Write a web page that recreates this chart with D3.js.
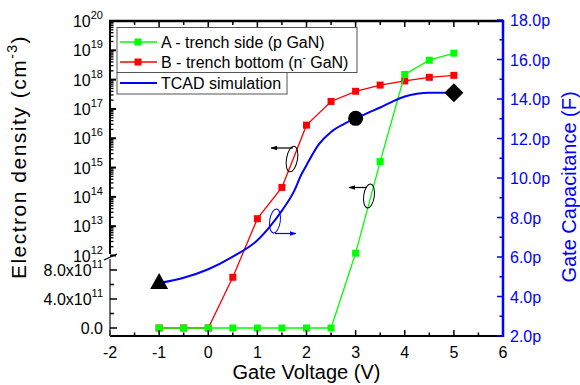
<!DOCTYPE html>
<html><head><meta charset="utf-8">
<script src="https://cdn.jsdelivr.net/npm/d3@7"></script>
<style>body{margin:0;background:#fff} text{font-family:"Liberation Sans",Arial,sans-serif}</style>
</head><body><svg id="c" width="580" height="385"></svg>
<script>
// ---- data ----
const gateV = [-1,-0.5,0,0.5,1,1.5,2,2.5,3,3.5,4,4.5,5];
const densA = [0,0,0,0,0,0,0,0,1.2e12,1.6e15,1.5e18,4.6e18,8e18];
const densB = [0,0,0,7e11,1.8e13,2.1e14,2.8e16,1.8e17,4e17,6.5e17,9e17,1.2e18,1.4e18];
const tcadV = [-1,-0.5,0,0.5,1,1.25,1.5,1.75,1.9,2,2.25,2.5,2.75,3,3.25,3.5,3.75,4,4.25,4.5,5];
const tcadC = [4.68,4.95,5.38,6.02,6.85,7.53,8.35,9.35,10.2,10.65,11.7,12.33,12.72,13.02,13.3,13.57,13.87,14.13,14.27,14.32,14.32];
const markerV = [-1,3,5];
const markerC = [4.68,13.02,14.32];
const markerShape = ["triangle","circle","diamond"];
const xTicks = [-2,-1,0,1,2,3,4,5,6];
const logExps = [12,13,14,15,16,17,18,19,20];
const linTicks = [0,4e11,8e11];
const linTickLabels = ["0.0","4.0x10","8.0x10"];
const capTicks = [2,4,6,8,10,12,14,16,18];
const legendLabels = ["A - trench side (p GaN)","B - trench bottom (n","TCAD simulation"];

// ---- layout ----
const svg = d3.select("#c");
const L = 110, R = 503, T = 21, B = 336;
const x = d3.scaleLinear().domain([-2,6]).range([L,R]);
const yC = d3.scaleLinear().domain([2,18]).range([B,T-1]);
const yLin = d3.scaleLinear().domain([0,1e12]).range([328,255.5]);
const yLog = d3.scaleLog().domain([1e12,1e20]).range([255.5,T]);
const yL = v => v < 1e12 ? yLin(v) : yLog(v);
const green = "#00ff00", red = "#ff0000", blue = "#0000ff";

const g = svg.append("g");

// ---- series ----
const lineL = d3.line().x((d,i)=>x(d[0])).y(d=>yL(d[1]));
const dataA = gateV.map((v,i)=>[v,densA[i]]);
const dataB = gateV.map((v,i)=>[v,densB[i]]);
const dataT = tcadV.map((v,i)=>[v,tcadC[i]]);

g.append("path").datum(dataB).attr("d",lineL).attr("fill","none").attr("stroke",red).attr("stroke-width",1.3);
g.selectAll(".mb").data(dataB).enter().append("rect")
  .attr("x",d=>x(d[0])-3.5).attr("y",d=>yL(d[1])-3.5).attr("width",7).attr("height",7).attr("fill",red);
g.append("path").datum(dataA).attr("d",lineL).attr("fill","none").attr("stroke",green).attr("stroke-width",1.3);
g.selectAll(".ma").data(dataA).enter().append("rect")
  .attr("x",d=>x(d[0])-3.5).attr("y",d=>yL(d[1])-3.5).attr("width",7).attr("height",7).attr("fill",green);

g.append("path").datum(dataT)
  .attr("d",d3.line().curve(d3.curveMonotoneX).x(d=>x(d[0])).y(d=>yC(d[1])))
  .attr("fill","none").attr("stroke",blue).attr("stroke-width",2);

markerV.forEach((v,i)=>{
  const cx = x(v), cy = yC(markerC[i]);
  if (markerShape[i]==="triangle")
    g.append("path").attr("d",`M${cx},${cy-10}L${cx+9},${cy+6}L${cx-9},${cy+6}Z`).attr("fill","#000");
  else if (markerShape[i]==="circle")
    g.append("circle").attr("cx",cx).attr("cy",cy).attr("r",7.5).attr("fill","#000");
  else
    g.append("path").attr("d",`M${cx},${cy-9.5}L${cx+9.5},${cy}L${cx},${cy+9.5}L${cx-9.5},${cy}Z`).attr("fill","#000");
});

// ---- annotations ----
const defs = svg.append("defs");
[["ahk","#000"],["ahb",blue]].forEach(([id,c])=>{
  defs.append("marker").attr("id",id).attr("viewBox","0 0 10 10").attr("refX",9).attr("refY",5)
    .attr("markerWidth",7).attr("markerHeight",7).attr("markerUnits","userSpaceOnUse").attr("orient","auto")
    .append("path").attr("d","M0,1.5L10,5L0,8.5Z").attr("fill",c);
});
function ellipse(cx,cy,rx,ry,rot,c){
  g.append("ellipse").attr("cx",cx).attr("cy",cy).attr("rx",rx).attr("ry",ry)
   .attr("transform",`rotate(${rot},${cx},${cy})`).attr("fill","none").attr("stroke",c).attr("stroke-width",1);
}
function arrow(x1,y1,x2,y2,m,c){
  g.append("line").attr("x1",x1).attr("y1",y1).attr("x2",x2).attr("y2",y2)
   .attr("stroke",c).attr("stroke-width",1.2).attr("marker-end",`url(#${m})`);
}
ellipse(292,159,5.5,13,10,"#000"); arrow(293,148,271,148,"ahk","#000");
ellipse(275,221,5.3,12,8,blue); arrow(275,233.5,296,233.5,"ahb",blue);
ellipse(369,196,5.3,12,8,"#000"); arrow(367,187.5,349,187.5,"ahk","#000");

// ---- axes ----
const ax = svg.append("g");
// bottom
ax.append("line").attr("x1",L).attr("x2",R+1).attr("y1",B).attr("y2",B).attr("stroke","#000").attr("stroke-width",2);
// top
ax.append("line").attr("x1",L-1).attr("x2",R+1).attr("y1",T).attr("y2",T).attr("stroke","#000").attr("stroke-width",2.5);
d3.range(-2,6.01,0.5).forEach(v=>{
  const major = Number.isInteger(v);
  ax.append("line").attr("x1",x(v)).attr("x2",x(v)).attr("y1",B).attr("y2",B-(major?6:3.5)).attr("stroke","#000").attr("stroke-width",1.5);
  ax.append("line").attr("x1",x(v)).attr("x2",x(v)).attr("y1",T).attr("y2",T+(major?6:4)).attr("stroke","#000").attr("stroke-width",1.5);
});
xTicks.forEach(v=>{
  ax.append("text").attr("x",x(v)).attr("y",B+22).attr("text-anchor","middle").attr("font-size",16).attr("fill","#000")
    .text(v<0?"-"+Math.abs(v):v);
});
ax.append("text").attr("x",(L+R)/2).attr("y",379).attr("text-anchor","middle").attr("font-size",20).text("Gate Voltage (V)");

// left axis upper (log)
ax.append("line").attr("x1",L).attr("x2",L).attr("y1",T).attr("y2",254).attr("stroke","#000").attr("stroke-width",2);
logExps.forEach(e=>{
  const yy = yLog(Math.pow(10,e));
  ax.append("line").attr("x1",L).attr("x2",L+6).attr("y1",yy).attr("y2",yy).attr("stroke","#000").attr("stroke-width",2);
  if (e<20) for (let k=2;k<=9;k++){
    const ym = yLog(k*Math.pow(10,e));
    ax.append("line").attr("x1",L).attr("x2",L+3.5).attr("y1",ym).attr("y2",ym).attr("stroke","#000").attr("stroke-width",1.3);
  }
  const t = ax.append("text").attr("x",103).attr("y",yy+6).attr("text-anchor","end").attr("font-size",16).attr("fill","#000");
  t.append("tspan").text("10");
  t.append("tspan").attr("dy",-8).attr("font-size",11).text(e);
});
// left axis lower (linear)
ax.append("line").attr("x1",L).attr("x2",L).attr("y1",259).attr("y2",B).attr("stroke","#444").attr("stroke-width",1.5);
d3.range(0,1e12+1,2e11).forEach((v,i)=>{
  const yy = yLin(v);
  if (v>=1e12) return;
  ax.append("line").attr("x1",L).attr("x2",L+(i%2===0?7:4)).attr("y1",yy).attr("y2",yy).attr("stroke","#000").attr("stroke-width",1.5);
});
linTicks.forEach((v,i)=>{
  const t = ax.append("text").attr("x",103).attr("y",yLin(v)+6).attr("text-anchor","end").attr("font-size",16).attr("fill","#000");
  t.append("tspan").text(linTickLabels[i]);
  if (v>0) t.append("tspan").attr("dy",-8).attr("font-size",11).text("11");
});
ax.append("line").attr("x1",104).attr("y1",260).attr("x2",117).attr("y2",254).attr("stroke","#000").attr("stroke-width",1.2);
const lt = ax.append("text").attr("transform","translate(26,157) rotate(-90)").attr("text-anchor","middle")
  .attr("font-size",21).attr("letter-spacing",1.5).attr("fill","#000");
lt.append("tspan").text("Electron density (cm");
lt.append("tspan").attr("dy",-9).attr("font-size",14).text("-3");
lt.append("tspan").attr("dy",9).text(")");

// right axis
ax.append("line").attr("x1",R).attr("x2",R).attr("y1",T-1).attr("y2",B+1).attr("stroke",blue).attr("stroke-width",2.5);
d3.range(2,18.01,1).forEach(v=>{
  const major = v%2===0;
  ax.append("line").attr("x1",R).attr("x2",R-(major?6:3.5)).attr("y1",yC(v)).attr("y2",yC(v)).attr("stroke",blue).attr("stroke-width",1.5);
});
capTicks.forEach(v=>{
  ax.append("text").attr("x",510).attr("y",yC(v)+6).attr("font-size",16).attr("fill",blue).text(v.toFixed(1)+"p");
});
ax.append("text").attr("transform","translate(576,187) rotate(-90)").attr("text-anchor","middle").attr("font-size",20).attr("fill",blue).text("Gate Capacitance (F)");

// ---- legend ----
const lg = svg.append("g");
lg.append("rect").attr("x",117).attr("y",27.5).attr("width",240).attr("height",45).attr("fill","#fff").attr("stroke","#555").attr("stroke-width",1);
lg.append("rect").attr("x",117).attr("y",72.5).attr("width",170).attr("height",21.5).attr("fill","#fff").attr("stroke","#555").attr("stroke-width",1);
const lcols = [green,red,blue];
[42,62,83].forEach((yy,i)=>{
  lg.append("line").attr("x1",120).attr("x2",157).attr("y1",yy).attr("y2",yy).attr("stroke",lcols[i]).attr("stroke-width",i===2?2:1.5);
  if (i<2) lg.append("rect").attr("x",134.5).attr("y",yy-3.5).attr("width",7).attr("height",7).attr("fill",lcols[i]);
  const t = lg.append("text").attr("x",161).attr("y",yy+6).attr("font-size",16).attr("fill","#000");
  t.append("tspan").text(legendLabels[i]);
  if (i===1){ t.append("tspan").attr("dy",-7).attr("font-size",10).text("-"); t.append("tspan").attr("dy",7).text(" GaN)"); }
});
</script></body></html>
